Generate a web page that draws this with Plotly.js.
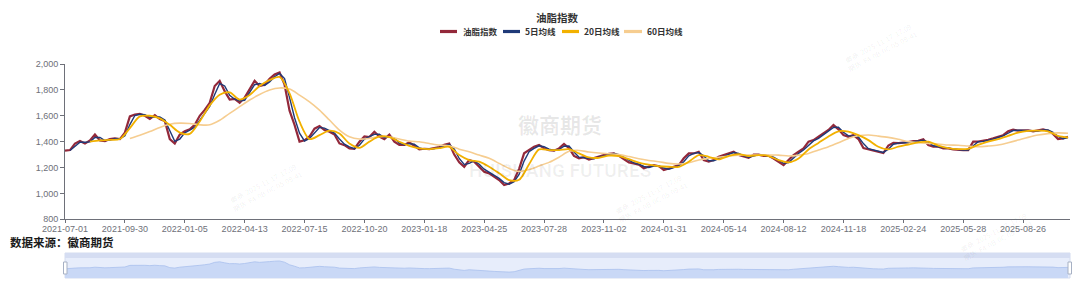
<!DOCTYPE html>
<html>
<head>
<meta charset="utf-8">
<script src="https://cdn.plot.ly/plotly-3.0.1.min.js"></script>
<style>
html,body{margin:0;padding:0;background:#fff;}
#chart{width:1080px;height:287px;}
</style>
</head>
<body>
<div id="chart"></div>
<script>
// ---------- data ----------
const tickLabels = ['2021-07-01','2021-09-30','2022-01-05','2022-04-13','2022-07-15','2022-10-20',
  '2023-01-18','2023-04-25','2023-07-28','2023-11-02','2024-01-31','2024-05-14','2024-08-12',
  '2024-11-18','2025-02-24','2025-05-28','2025-08-26'];
const tickEvery = 60;            // trading days between labelled ticks
const yTicks = [800, 1000, 1200, 1400, 1600, 1800, 2000];

// 油脂指数, one reading every 5 trading days
const closeStep = 5;
const closeVals = [
  1330,1335,1385,1405,1385,1410,1455,1410,1405,1420,
  1425,1420,1470,1595,1610,1615,1600,1575,1605,1575,
  1560,1420,1385,1455,1480,1495,1530,1600,1645,1700,
  1830,1870,1790,1725,1730,1700,1740,1810,1870,1830,
  1840,1885,1920,1935,1840,1640,1530,1400,1410,1440,
  1500,1520,1490,1476,1455,1386,1373,1347,1345,1400,
  1440,1435,1476,1440,1420,1455,1400,1375,1375,1395,
  1365,1340,1345,1342,1350,1358,1375,1386,1300,1240,
  1206,1258,1245,1206,1168,1155,1129,1103,1065,1077,
  1103,1190,1310,1335,1361,1374,1348,1335,1330,1348,
  1382,1350,1290,1271,1280,1262,1275,1285,1296,1305,
  1310,1290,1265,1240,1232,1222,1195,1206,1219,1210,
  1181,1193,1206,1219,1271,1309,1309,1322,1258,1245,
  1258,1283,1296,1309,1322,1296,1283,1275,1300,1300,
  1290,1290,1270,1245,1219,1258,1296,1322,1348,1400,
  1412,1438,1464,1490,1528,1495,1451,1438,1451,1420,
  1350,1342,1332,1322,1312,1370,1390,1388,1390,1397,
  1404,1407,1418,1374,1361,1361,1348,1348,1340,1335,
  1335,1335,1400,1400,1405,1414,1425,1438,1450,1480,
  1492,1485,1485,1488,1480,1485,1495,1485,1460,1420,
  1425,1438
];

// 5日均线, one reading every 5 trading days, first at day 5
const ma5Start = 5, ma5Step = 5;
const ma5Vals = [
  1332,1360,1395,1395,1398,1432,1432,1408,1412,1422,
  1422,1445,1532,1602,1612,1608,1588,1590,1590,1568,
  1490,1402,1420,1468,1488,1512,1565,1622,1672,1765,
  1850,1830,1758,1728,1715,1720,1775,1840,1850,1835,
  1862,1902,1928,1888,1740,1585,1465,1405,1425,1470,
  1510,1505,1483,1466,1420,1380,1360,1346,1372,1420,
  1438,1456,1458,1430,1438,1428,1388,1375,1385,1380,
  1352,1342,1344,1346,1354,1366,1380,1343,1270,1223,
  1232,1252,1226,1187,1162,1142,1116,1084,1071,1090,
  1146,1250,1322,1348,1368,1361,1342,1332,1339,1365,
  1366,1320,1280,1276,1271,1268,1280,1290,1300,1308,
  1300,1278,1252,1236,1227,1208,1200,1212,1214,1196,
  1187,1200,1212,1245,1290,1309,1316,1290,1252,1252,
  1270,1290,1302,1316,1309,1290,1279,1288,1300,1295,
  1290,1280,1258,1232,1238,1277,1309,1335,1374,1406,
  1425,1451,1477,1509,1512,1473,1445,1445,1436,1385,
  1346,1337,1327,1317,1341,1380,1389,1389,1394,1400,
  1406,1412,1396,1368,1361,1354,1348,1344,1338,1335,
  1335,1368,1400,1402,1410,1420,1432,1444,1465,1486,
  1488,1485,1486,1484,1482,1490,1490,1472,1440,1422,
  1432
];

// 20日均线, one reading every 10 trading days, first at day 25
const ma20Start = 25, ma20Step = 10;
const ma20Vals = [
  1400,1410,1414,1420,1505,1595,1600,1580,1530,1470,
  1460,1556,1680,1763,1780,1725,1760,1830,1876,1900,
  1773,1554,1420,1450,1485,1463,1385,1352,1400,1440,
  1435,1399,1368,1348,1342,1350,1360,1296,1258,1245,
  1206,1155,1103,1105,1225,1340,1335,1335,1342,1309,
  1278,1275,1292,1288,1265,1238,1222,1210,1206,1206,
  1245,1296,1283,1263,1289,1304,1289,1296,1289,1258,
  1240,1270,1340,1390,1440,1480,1477,1450,1412,1361,
  1340,1361,1378,1395,1400,1370,1350,1342,1345,1375,
  1400,1420,1445,1470,1483,1485,1480,1445,1432
];

// 60日均线, one reading every 10 trading days, first at day 65
const ma60Start = 65, ma60Step = 10;
const ma60Vals = [
  1425,1450,1478,1510,1535,1543,1540,1530,1530,1565,
  1618,1670,1722,1765,1799,1815,1806,1760,1708,1644,
  1567,1489,1438,1420,1425,1438,1438,1420,1404,1399,
  1386,1373,1368,1342,1322,1296,1271,1232,1193,1170,
  1185,1212,1240,1280,1325,1332,1320,1312,1306,1300,
  1285,1268,1255,1245,1232,1227,1237,1258,1271,1279,
  1289,1296,1296,1296,1296,1296,1289,1296,1309,1335,
  1361,1392,1425,1445,1451,1443,1433,1418,1400,1392,
  1387,1382,1374,1372,1366,1361,1366,1374,1392,1412,
  1433,1451,1462,1468,1465
];

const seriesNames = ['油脂指数', '5日均线', '20日均线', '60日均线'];
const seriesColors = ['#93283a', '#1f3a78', '#f2b100', '#f6cd90'];

// ---------- build ----------
const dayPos = (start, step, arr) => arr.map((_, i) => start + i * step);
const xClose = dayPos(0, closeStep, closeVals);
const xMa5 = dayPos(ma5Start, ma5Step, ma5Vals);
const xMa20 = dayPos(ma20Start, ma20Step, ma20Vals);
const xMa60 = dayPos(ma60Start, ma60Step, ma60Vals);
const tickVals = tickLabels.map((_, k) => k * tickEvery);
const xMax = 1007;

const W = 1080, H = 287, ML = 65, MR = 10;
const PW = W - ML - MR;
const px = v => (v - ML) / PW;     // pixel -> paper x
const py = v => 1 - v / H;         // pixel -> paper y

const traces = [
  {type:'scatter', mode:'lines', name:seriesNames[0], x:xClose, y:closeVals,
   line:{color:seriesColors[0], width:2.2}, hoverinfo:'y+name'},
  {type:'scatter', mode:'lines', name:seriesNames[1], x:xMa5, y:ma5Vals,
   line:{color:seriesColors[1], width:1.4}, hoverinfo:'y+name'},
  {type:'scatter', mode:'lines', name:seriesNames[3], x:xMa60, y:ma60Vals,
   line:{color:seriesColors[3], width:1.6, shape:'spline', smoothing:0.8}, hoverinfo:'y+name'},
  {type:'scatter', mode:'lines', name:seriesNames[2], x:xMa20, y:ma20Vals,
   line:{color:seriesColors[2], width:1.8, shape:'spline', smoothing:0.8}, hoverinfo:'y+name'},
  // data-zoom shadow
  {type:'scatter', mode:'lines', x:xClose, y:closeVals, xaxis:'x2', yaxis:'y2',
   fill:'tozeroy', fillcolor:'#c9d8f6', line:{color:'#a9c0ee', width:0.8},
   hoverinfo:'skip', showlegend:false}
];

const cjk = '"Noto Sans CJK SC", "Noto Sans", sans-serif';
const axisGrey = '#6e7079';

// compact legend like the reference
const legendItems = [
  {sym:[440,457], text:461},
  {sym:[503,520], text:523},
  {sym:[562,579], text:582},
  {sym:[624,642], text:645}
];
const legendY = 31.5;
const legendOrder = [0, 1, 2, 3];

const shapes = [
  // slider background
  {type:'rect', xref:'paper', yref:'paper', x0:0, x1:1, y0:py(278), y1:py(253),
   fillcolor:'#e7edfb', line:{color:'#d4dcef', width:1}, layer:'below'},
  {type:'rect', xref:'paper', yref:'paper', x0:0, x1:1, y0:py(258), y1:py(253),
   fillcolor:'#d5ddf2', line:{width:0}, layer:'below'},
  // handles
  {type:'rect', xref:'paper', yref:'paper', x0:px(63.5), x1:px(67), y0:py(274), y1:py(262),
   fillcolor:'#ffffff', line:{color:'#a7b1c4', width:1}, layer:'above'},
  {type:'rect', xref:'paper', yref:'paper', x0:px(1068), x1:px(1071.5), y0:py(274), y1:py(262),
   fillcolor:'#ffffff', line:{color:'#a7b1c4', width:1}, layer:'above'}
];
legendOrder.forEach((s, i) => {
  const it = legendItems[i];
  shapes.push({type:'line', xref:'paper', yref:'paper', x0:px(it.sym[0]), x1:px(it.sym[1]),
    y0:py(legendY), y1:py(legendY), line:{color:seriesColors[s], width:3.2}});
});

const annotations = [];
legendOrder.forEach((s, i) => {
  annotations.push({xref:'paper', yref:'paper', x:px(legendItems[i].text), y:py(legendY),
    xanchor:'left', yanchor:'middle', showarrow:false, text:seriesNames[s],
    font:{family:cjk, size:8.5, color:'#333', weight:700}});
});
annotations.push({xref:'paper', yref:'paper', x:px(8), y:py(241.5), xanchor:'left', yanchor:'middle',
  showarrow:false, text:'数据来源：徽商期货', font:{family:cjk, size:11.5, color:'#1a1a1a', weight:700}});
// watermarks
annotations.push({xref:'paper', yref:'paper', x:px(560), y:py(124), xanchor:'center', yanchor:'middle',
  showarrow:false, text:'徽商期货', font:{family:cjk, size:21, color:'rgba(0,0,0,0.09)', weight:700}});
annotations.push({xref:'paper', yref:'paper', x:px(560), y:py(170), xanchor:'center', yanchor:'middle',
  showarrow:false, text:'HUISHANG FUTURES', font:{family:'Roboto, sans-serif', size:19, color:'rgba(0,0,0,0.06)', weight:700}});
const wmSpots = [[265,188],[650,198],[880,48],[995,236]];
wmSpots.forEach(p => {
  annotations.push({xref:'paper', yref:'paper', x:px(p[0]), y:py(p[1]), xanchor:'center', yanchor:'middle',
    showarrow:false, textangle:-28, text:'徽商  2025-11-17  17:09<br>期货  F4-0B-0C-05-09-41',
    font:{family:cjk, size:7, color:'rgba(0,0,0,0.07)'}});
});

const layout = {
  width:W, height:H,
  margin:{l:ML, r:MR, t:0, b:0, pad:0},
  paper_bgcolor:'#ffffff', plot_bgcolor:'rgba(0,0,0,0)',
  showlegend:false,
  font:{family:'"Liberation Sans", Arial, sans-serif', size:9, color:axisGrey},
  title:{text:'油脂指数', xref:'container', yref:'container', x:557/W, y:py(18),
    xanchor:'center', yanchor:'middle', font:{family:cjk, size:10.5, color:'#333', weight:700}},
  xaxis:{domain:[0,1], anchor:'y', range:[0, xMax], tickmode:'array', tickvals:tickVals, ticktext:tickLabels,
    showline:true, linecolor:axisGrey, linewidth:1, ticks:'outside', ticklen:3, tickcolor:axisGrey,
    ticklabelstandoff:-2,
    showgrid:false, zeroline:false, tickfont:{size:9, color:axisGrey}, fixedrange:true},
  yaxis:{domain:[py(219.3), py(64)], anchor:'x', range:[800, 2000], tickmode:'array', tickvals:yTicks,
    tickformat:',d', showline:true, linecolor:axisGrey, linewidth:1, ticks:'outside', ticklen:4,
    tickcolor:axisGrey, showgrid:false, zeroline:false, tickfont:{size:9, color:axisGrey}, fixedrange:true},
  xaxis2:{domain:[0,1], anchor:'y2', range:[0, xMax], visible:false, fixedrange:true},
  yaxis2:{domain:[py(278), py(253)], anchor:'x2', range:[620, 2550], visible:false, fixedrange:true},
  shapes:shapes,
  annotations:annotations
};

Plotly.newPlot('chart', traces, layout, {displayModeBar:false, staticPlot:false, responsive:false});
</script>
</body>
</html>
